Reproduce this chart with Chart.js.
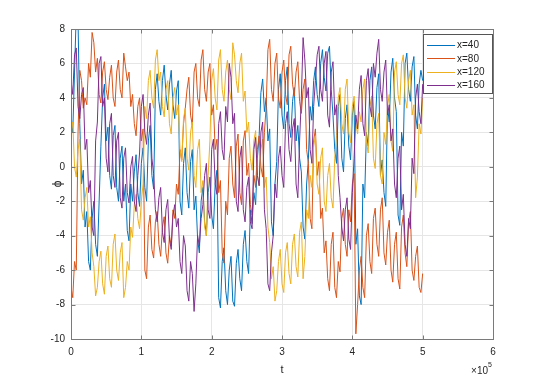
<!DOCTYPE html>
<html>
<head>
<meta charset="utf-8">
<script src="https://cdn.jsdelivr.net/npm/chart.js@4/dist/chart.umd.min.js"></script>
<style>
html, body { margin: 0; padding: 0; background: #fff; }
</style>
</head>
<body>
<canvas id="phiChart" width="545" height="382"></canvas>
<script>
// samples every 2500 in t, from t = 0 to t = 5e5
var tStep = 2500;
var seriesLabels = ['x=40', 'x=80', 'x=120', 'x=160'];
var seriesColors = ['#0072BD', '#D95319', '#EDB120', '#7E2F8E'];
var xTicks = [0, 100000, 200000, 300000, 400000, 500000, 600000];
var yTicks = [-10, -8, -6, -4, -2, 0, 2, 4, 6, 8];

var phi40 = [3, 2.0, 5.5, 8.9, 8.5, 2.5, -1, -0.2, -3.5, -2.6,
  -5.5, -6.0, -3, -2.0, -4.5, -5.2, -2, 1.2, 4, 4.8,
  1.5, 2.3, -0.5, -1.3, 1.8, 2.4, -1.2, -2.0, 0.5, 1.2,
  -2, -1.0, -3.7, -4.3, -1, -2.0, -0.3, 0.7, -1.5, -2.3,
  0.2, 1.1, -1.2, -2.0, 1.5, 2.4, -0.5, -1.3, 4.5, 5.4,
  3.8, 3.0, 5, 5.9, 4.2, 3.3, 4.8, 5.6, 3.6, 2.8,
  4.4, 5.0, -2, -2.8, 0.2, 1.1, -1.5, -2.4, 0.3, 1.0,
  -2.5, -1.7, -4.2, -5.0, -2, -1.2, -3.2, -4.0, -1.5, -0.6,
  -2.8, -3.6, -1, -0.2, -7.6, -8.2, -5.5, -4.7, -7.2, -8.0,
  -6, -5.2, -7.8, -8.1, -5.6, -4.8, -6.5, -7.2, -4.5, -3.7,
  -5.5, -6.2, -2.5, -3.3, -1.5, -2.2, 0.5, 1.8, 4.3, 5.1,
  3.2, 4.0, 1.5, 2.2, -3.2, -4.0, -1, 0.3, 4.5, 5.4,
  3, 2.2, 5, 5.8, 2.5, 1.7, 3.8, 4.6, 1.5, 2.4,
  0.5, -0.3, -3.5, -4.2, -1, 0.4, 3.5, 2.7, 5, 5.8,
  4.2, 3.5, 6, 6.8, 5.2, 4.4, 6.6, 7.0, 4.5, 3.0,
  1, 0.2, 3.5, 4.2, 0.5, -0.3, 2.8, 3.6, 1.2, 0.4,
  3, 3.8, -4.5, -3.6, -7.5, -8.0, -1, -1.8, 2, 1.2,
  5, 5.8, 3, 2.2, 4.6, 5.4, -0.5, 0.4, -1.5, -2.3,
  3.5, 2.6, 5.5, 6.3, 4, 3.2, -2.8, -3.4, 2, 1.2,
  6, 6.6, 4.5, 3.8, 5.8, 6.4, 3, 2.2, 4.8, 5.6,
  5];

var phi80 = [-7, -7.6, -5.5, -6.0, 2, 5.6, 5, 3.4, 4, 3.6,
  6, 5.2, 7.8, 7.2, 5.5, 6.3, 4.2, 3.7, 5.5, 6.1,
  4.5, 3.9, 5.2, 5.9, 4, 3.5, 5.5, 6.2, 4.5, 4.0,
  6.6, 5.8, 5, 5.5, 3.5, 4.2, 2.5, 1.8, 3.5, 4.0,
  1.5, 2.2, -6, -6.5, -3.5, -2.8, -4.8, -5.3, -3.2, -2.6,
  -4.5, -5.2, -3.5, -2.9, -5, -5.6, -4, -4.6, -2.5, -3.0,
  -1, -1.6, 1, 0.4, 2.5, 3.4, 4.5, 5.2, 3, 2.4,
  5.5, 6.0, 4, 3.5, 6.2, 6.8, 4.5, 3.8, 5.5, 6.0,
  3, 3.6, 1, 1.6, -1.5, -0.8, -5, -5.6, -2, -2.8,
  0.5, 1.2, -1, -1.8, 1.2, 1.9, -1.5, -2.2, 1.5, 2.1,
  -0.5, 0.2, -2.2, -2.8, -0.5, -1.2, 1, 1.8, 0, -0.6,
  2, 3.5, 6.8, 7.4, 4.5, 3.8, 6, 6.6, 4, 3.4,
  5.5, 6.2, 4.2, 3.6, 6.5, 7.0, 4.8, 4.1, 5.5, 6.1,
  3.8, 3.1, 4.5, 5.1, 1, 0.2, -3, -3.6, 1.5, 2.2,
  -0.5, 0.3, -3, -2.4, -5, -4.3, -6.5, -7.2, -4.5, -3.8,
  -7, -7.6, -5.5, -6.1, -3, -2.4, -4.5, -5.2, -2.5, -3.2,
  -1, -0.4, -9.7, -8.0, -6, -5.2, -7, -7.6, -4, -3.3,
  -5.5, -6.2, -3, -2.4, -4.5, -5.2, -2.5, -1.8, -5, -5.7,
  -3.8, -3.1, -6, -6.7, -4.5, -3.8, -6.5, -7.1, -3.5, -2.8,
  -5, -5.8, -3.2, -2.6, -6, -6.6, -5.2, -4.6, -7, -7.3,
  -6.2];

var phi120 = [2, 2.6, 0, -0.6, 1, 1.6, -2.5, -3.1, -1.8, -1.2,
  -3.5, -2.9, -5, -5.8, -7.5, -7.0, -5.5, -4.9, -6.8, -7.4,
  -5.2, -4.6, -6.5, -7.0, -4.5, -3.9, -6, -6.6, -5, -4.4,
  -7.6, -7.0, -5.5, -6.0, -3.5, -4.1, -2.2, -1.6, -3, -3.6,
  -2, -1.0, 3.5, 2.8, 5, 5.6, 4, 3.4, 6.2, 6.8,
  5, 5.5, 3.5, 2.9, 4.5, 5.0, 2.5, 1.9, 4, 4.6,
  3, 3.6, 1, 0.3, 2.8, 3.4, 0.5, -0.2, 2, 2.6,
  -0.5, -1.2, 1, 1.6, -1.5, -0.8, -3.5, -4.0, -0.5, 1.5,
  5, 5.7, 4, 3.3, 6.2, 6.8, 4.5, 3.8, 5.5, 6.2,
  4.5, 3.9, 7.2, 6.5, 5, 4.3, 6, 6.6, 3.8, 4.4,
  2, 2.6, 0.5, -0.2, 1.5, 2.1, -0.5, -1.1, 1, 1.6,
  -1.2, -0.6, -3.5, -4.4, -6.5, -5.8, -7.8, -7.2, -5.5, -4.8,
  -6.8, -7.3, -5, -4.4, -6.2, -6.8, -4.5, -3.9, -5.8, -6.4,
  -3.8, -3.2, -6.5, -5.2, -2.5, -3.0, -0.5, -1.2, 1.2, 1.8,
  -1, -1.6, 0.5, 1.1, -2, -2.6, -0.5, 0.2, -1.8, -2.4,
  0.5, 1.8, 4, 4.6, 2.5, 1.9, 4.5, 5.1, 2, 1.4,
  3.5, 4.1, 2.5, 1.9, 3.2, 2.6, 4.5, 5.1, 1.5, 0.8,
  3.5, 4.1, 0.5, -0.1, 2.5, 3.1, -0.5, -1.0, 2, 1.3,
  3.5, 4.2, 1.5, 0.9, 5.5, 6.1, 4.2, 3.6, 6, 6.5,
  4, 3.4, 5, 5.6, 3, 3.6, -1.8, -0.6, 2.5, 1.9,
  4];

var phi160 = [5, 4.2, 6.5, 6.9, 3.5, 2.8, 4.2, 4.6, 1, 1.6,
  -1.5, -0.8, -3.5, -4.0, 1.5, 2.6, 6, 6.4, 3.5, 4.0,
  0.5, -0.3, 2.5, 3.1, -0.5, -1.2, 1.5, 2.0, -1.8, -2.4,
  0.5, 1.1, -1.5, -2.1, 0, 0.6, -2, -2.6, -0.5, 0.8,
  3.5, 4.2, 2, 1.3, 3, 3.7, 0.5, -0.4, -2.5, -3.2,
  -1.8, -1.2, -3.8, -4.4, -2.5, -1.9, -4.2, -4.8, -2.8, -2.2,
  -3.5, -3.0, -5.5, -6.2, -4, -4.6, -7.2, -7.8, -5.5, -6.2,
  -8.4, -6.8, -4, -4.6, -3, -2.2, -0.5, 0.2, -2.5, -3.0,
  1, 1.6, -1, -1.6, 2.5, 3.2, 1, 0.4, 3.5, 2.6,
  6, 5.2, 2.5, 3.1, -2, -2.6, 0.5, 1.2, -2.5, -3.2,
  -1.2, -0.6, -3.2, -3.6, 1, 1.7, -0.5, -1.1, 2, 2.6,
  -2.5, -3.6, -6.8, -7.2, -5, -4.0, -1, -1.8, 0.5, 1.2,
  -0.5, -1.2, 2.5, 3.2, 1, 0.3, 2.2, 2.8, -1, -1.8,
  1.5, 4.0, 7.5, 6.2, 4, 4.6, 1, 0.2, 3.5, 5.0,
  6.5, 7.0, 4.5, 3.8, 6, 6.7, 3, 2.3, 5.5, 6.1,
  3, 3.6, -0.5, -1.8, -3.5, -4.3, -2.5, -1.8, -4.2, -4.8,
  -1.5, 0.5, 3, 2.2, 4.5, 5.3, 2.5, 1.8, 5, 5.7,
  3.5, 2.9, 6, 5.2, 6.6, 7.4, 4.5, 3.8, 5.5, 6.2,
  3, 3.6, 1.5, 2.2, -1, -1.8, 0.5, 1.2, -2.5, -1.6,
  -4.5, -5.2, -3, -3.6, 0.5, -0.4, 4, 4.8, 3.2, 2.5,
  4.8];

var allSeries = [phi40, phi80, phi120, phi160];

var textColor = '#262626';
var axisFont = { family: 'Liberation Sans, Arial, sans-serif', size: 10 };

function toPoints(values) {
    var pts = [];
    for (var i = 0; i < values.length; i++) {
        pts.push({ x: i * tStep, y: values[i] });
    }
    return pts;
}

var datasets = [];
for (var k = 0; k < allSeries.length; k++) {
    datasets.push({
        label: seriesLabels[k],
        data: toPoints(allSeries[k]),
        borderColor: seriesColors[k],
        backgroundColor: seriesColors[k],
        borderWidth: 1,
        pointRadius: 0,
        tension: 0,
        order: allSeries.length - k
    });
}

// box, inside ticks, legend and the x10^5 note, matlab style
var matlabBox = {
    id: 'matlabBox',
    afterDraw: function(chart) {
        var c = chart.ctx;
        var a = chart.chartArea;
        var xs = chart.scales.x, ys = chart.scales.y;
        var L = Math.round(a.left) + 0.5, R = Math.round(a.right) + 0.5;
        var T = Math.round(a.top) + 0.5, B = Math.round(a.bottom) + 0.5;
        c.save();
        c.strokeStyle = '#7a7a7a';
        c.lineWidth = 1;
        c.strokeRect(L, T, R - L, B - T);
        c.beginPath();
        xTicks.forEach(function(v) {
            var px = Math.round(xs.getPixelForValue(v)) + 0.5;
            c.moveTo(px, B); c.lineTo(px, B - 4);
            c.moveTo(px, T); c.lineTo(px, T + 4);
        });
        yTicks.forEach(function(v) {
            var py = Math.round(ys.getPixelForValue(v)) + 0.5;
            c.moveTo(L, py); c.lineTo(L + 4, py);
            c.moveTo(R, py); c.lineTo(R - 4, py);
        });
        c.stroke();

        // legend
        var lx = 423.5, ly = 34.5, lw = 69, lh = 59;
        c.fillStyle = '#fff';
        c.fillRect(lx, ly, lw, lh);
        c.strokeStyle = '#555';
        c.strokeRect(lx, ly, lw, lh);
        c.font = '10px Liberation Sans, Arial, sans-serif';
        c.textBaseline = 'middle';
        c.textAlign = 'left';
        chart.data.datasets.forEach(function(ds, i) {
            var yy = 45 + i * 13.4;
            c.strokeStyle = ds.borderColor;
            c.lineWidth = 1;
            c.beginPath();
            c.moveTo(427, Math.round(yy) + 0.5);
            c.lineTo(455, Math.round(yy) + 0.5);
            c.stroke();
            c.fillStyle = textColor;
            c.fillText(ds.label, 457, yy + 0.5);
        });

        // exponent
        c.fillStyle = textColor;
        c.textBaseline = 'alphabetic';
        c.textAlign = 'right';
        c.font = '10px Liberation Sans, Arial, sans-serif';
        c.fillText('\u00d710', 488, 374);
        c.font = '7px Liberation Sans, Arial, sans-serif';
        c.textAlign = 'left';
        c.fillText('5', 488, 367);
        c.restore();
    }
};

var ctx = document.getElementById('phiChart');
var lineChart = new Chart(ctx, {
    type: 'line',
    data: { datasets: datasets },
    options: {
        responsive: false,
        animation: false,
        layout: { padding: { top: 29, right: 52, left: 0, bottom: 0 } },
        plugins: {
            legend: { display: false },
            tooltip: { enabled: false }
        },
        scales: {
            x: {
                type: 'linear',
                min: 0,
                max: 600000,
                afterFit: function(s) { s.height = 43; },
                afterBuildTicks: function(s) { s.ticks = xTicks.map(function(v) { return { value: v }; }); },
                ticks: {
                    callback: function(v) { return v / 100000; },
                    padding: 7, color: textColor, font: axisFont, maxRotation: 0
                },
                grid: { color: '#e6e6e6', drawTicks: false },
                border: { display: false },
                title: { display: true, text: 't', color: textColor, font: { family: axisFont.family, size: 11 }, padding: { top: 0, bottom: 5 } }
            },
            y: {
                min: -10,
                max: 8,
                afterFit: function(s) { s.width = 71; },
                afterBuildTicks: function(s) { s.ticks = yTicks.map(function(v) { return { value: v }; }); },
                ticks: { padding: 6, color: textColor, font: axisFont },
                grid: { color: '#e6e6e6', drawTicks: false },
                border: { display: false },
                title: { display: true, text: '\u03d5', color: textColor, font: { family: axisFont.family, size: 12 }, padding: { top: 50, bottom: 0 } }
            }
        }
    },
    plugins: [matlabBox]
});
</script>
</body>
</html>
